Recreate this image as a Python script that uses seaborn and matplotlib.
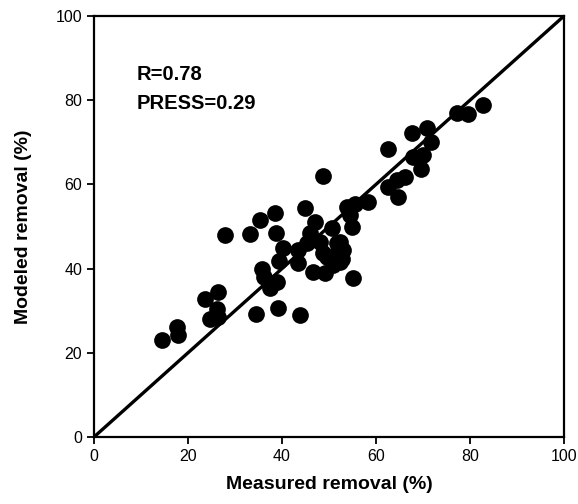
import numpy as np
import pandas as pd
import matplotlib
matplotlib.use("Agg")
import matplotlib.pyplot as plt
import seaborn as sns

# measured vs modeled removal (%)
measured = [14.5, 17.7, 17.9, 23.6, 24.7, 26.4, 26.2, 26.4, 27.9, 33.2,
            34.4, 35.4, 35.7, 36.2, 37.4, 38.6, 38.7, 38.9, 39.1, 39.4,
            40.2, 43.4, 43.4, 43.9, 44.8, 45.3, 46.0, 47.0, 46.6, 48.1,
            48.7, 48.7, 49.1, 49.6, 50.7, 51.7, 51.7, 52.3, 52.8, 53.0,
            53.8, 54.5, 54.9, 55.1, 55.5, 58.3, 62.6, 62.6, 64.5, 64.7,
            66.2, 67.7, 67.9, 69.6, 70.0, 70.9, 71.7, 77.2, 79.6, 82.8,
            50.9, 52.3]
modeled = [23.0, 26.1, 24.2, 32.8, 28.0, 28.5, 30.4, 34.4, 48.0, 48.3,
           29.3, 51.5, 40.0, 38.0, 35.5, 53.1, 48.4, 36.8, 30.6, 41.8,
           44.9, 44.4, 41.3, 28.9, 54.5, 46.1, 48.5, 51.0, 39.2, 46.3,
           62.0, 43.7, 39.0, 42.8, 49.6, 46.1, 43.7, 41.6, 42.2, 44.4,
           54.6, 52.7, 49.9, 37.8, 55.3, 55.7, 59.4, 68.4, 61.0, 57.0,
           61.8, 72.2, 66.5, 63.7, 67.0, 73.4, 70.1, 77.0, 76.7, 78.9,
           40.9, 46.3]
line_x = [0, 100]
line_y = [0, 100]
ticks = [0, 20, 40, 60, 80, 100]

df = pd.DataFrame({'measured': measured, 'modeled': modeled})

sns.set_style("ticks")
plt.rcParams['font.family'] = ['Liberation Sans', 'DejaVu Sans']
plt.rcParams['text.color'] = 'black'
plt.rcParams['axes.labelcolor'] = 'black'
plt.rcParams['xtick.color'] = 'black'
plt.rcParams['ytick.color'] = 'black'

fig = plt.figure(figsize=(5.78, 5.04), dpi=100)
ax = fig.add_axes([0.1626, 0.1329, 0.8132, 0.8354])

sns.lineplot(x=line_x, y=line_y, color='black', linewidth=2.4, ax=ax)
sns.scatterplot(data=df, x='measured', y='modeled', color='black', s=145,
                edgecolor='black', linewidth=0, ax=ax, zorder=3)

ax.set_xlim(0, 100)
ax.set_ylim(0, 100)
ax.set_xticks(ticks)
ax.set_yticks(ticks)
ax.tick_params(direction='out', length=5, width=1.3, labelsize=11.5,
               color='black', labelcolor='black')
for sp in ax.spines.values():
    sp.set_linewidth(1.6)
    sp.set_color('black')

ax.set_xlabel('Measured removal (%)', fontsize=14, fontweight='bold', labelpad=9)
ax.set_ylabel('Modeled removal (%)', fontsize=14, fontweight='bold', labelpad=17)

ax.text(9.1, 86.0, 'R=0.78', fontsize=14.5, fontweight='bold', va='center')
ax.text(9.1, 79.3, 'PRESS=0.29', fontsize=14.5, fontweight='bold', va='center')

fig.savefig('out.png', dpi=100)
